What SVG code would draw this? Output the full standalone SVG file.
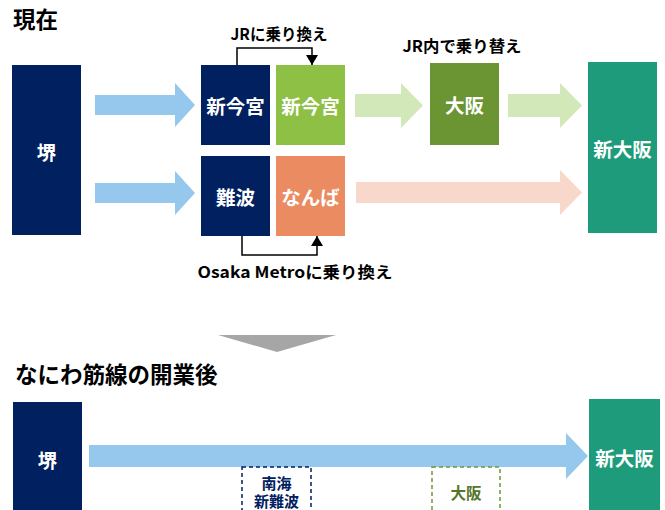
<svg xmlns="http://www.w3.org/2000/svg" width="665" height="510" viewBox="0 0 665 510">
<style>
text{font-family:"Noto Sans CJK JP","Noto Sans",sans-serif;font-weight:bold;}
.w{fill:#ffffff;font-size:19.5px;text-anchor:middle;dominant-baseline:central;}
.s{font-size:15.5px;}
.h{fill:#000000;font-size:22.5px;}
.l{fill:#000000;font-size:16px;text-anchor:middle;}
.navy{fill:#002060;}
.bk{fill:none;stroke:#000;stroke-width:1.5;}
</style>
<defs>
<marker id="ah" viewBox="0 0 10 12" refX="10" refY="6" markerWidth="10" markerHeight="12" markerUnits="userSpaceOnUse" orient="auto">
<path d="M0,0 L10,6 L0,12 Z" fill="#000"/>
</marker>
</defs>
<text class="h" x="13" y="28">現在</text>
<text class="h" x="15" y="383">なにわ筋線の開業後</text>
<g id="connectors">
<polygon fill="#95C8EC" points="95,95 175,95 175,83 195,105 175,127 175,115 95,115"/>
<polygon fill="#95C8EC" points="95,183 175,183 175,171 195,193 175,215 175,203 95,203"/>
<polygon fill="#D3E8B9" points="355,94 401,94 401,83 423,105.5 401,128 401,117 355,117"/>
<polygon fill="#D3E8B9" points="508,94 560,94 560,83 582,105.5 560,128 560,117 508,117"/>
<polygon fill="#F8D8CB" points="356,182 560,182 560,170 582,192.5 560,215 560,203 356,203"/>
<polygon fill="#95C8EC" points="89,445 566,445 566,433 588,456 566,479 566,467 89,467"/>
<polygon fill="#A6A6A6" points="218,335 336,335 277,352"/>
<path class="bk" d="M237,65 V48 H312 V65" marker-end="url(#ah)"/>
<path class="bk" d="M242,236 V255 H317 V236" marker-end="url(#ah)"/>
<text class="l" x="279" y="40" textLength="97" lengthAdjust="spacingAndGlyphs">JRに乗り換え</text>
<text class="l" x="462" y="52" textLength="119" lengthAdjust="spacingAndGlyphs">JR内で乗り替え</text>
<text class="l" x="295" y="278" textLength="195" lengthAdjust="spacingAndGlyphs">Osaka Metroに乗り換え</text>
</g>
<g id="sakai1"><rect class="navy" x="12" y="65" width="69" height="170"/><text class="w" x="46.5" y="151">堺</text></g>
<g id="shinimamiya-nankai"><rect class="navy" x="201" y="65" width="69" height="80"/><text class="w" x="235.5" y="105">新今宮</text></g>
<g id="shinimamiya-jr"><rect fill="#8DC044" x="276" y="65" width="69" height="80"/><text class="w" x="310.5" y="105">新今宮</text></g>
<g id="namba-nankai"><rect class="navy" x="201" y="156" width="69" height="80"/><text class="w" x="235.5" y="196">難波</text></g>
<g id="namba-metro"><rect fill="#EA8B61" x="276" y="156" width="69" height="80"/><text class="w" x="310.5" y="196">なんば</text></g>
<g id="osaka1"><rect fill="#6B9432" x="430" y="63" width="69" height="82"/><text class="w" x="464.5" y="104">大阪</text></g>
<g id="shinosaka1"><rect fill="#1E9B7A" x="588" y="62" width="69" height="171"/><text class="w" x="622.5" y="148">新大阪</text></g>
<g id="sakai2"><rect class="navy" x="13" y="402" width="69" height="120"/><text class="w" x="47.5" y="459">堺</text></g>
<g id="shinosaka2"><rect fill="#1E9B7A" x="589" y="399" width="71" height="120"/><text class="w" x="624.5" y="457">新大阪</text></g>
<g id="minami-shinnamba"><rect fill="#fff" stroke="#002060" stroke-width="1.5" stroke-dasharray="4,3" x="242" y="467" width="69" height="55"/><text style="fill:#002060;font-size:15px;text-anchor:middle"><tspan x="276.5" y="488.5">南海</tspan><tspan x="276.5" y="506.5">新難波</tspan></text></g>
<g id="osaka2"><rect fill="#fff" stroke="#70963A" stroke-width="1.5" stroke-dasharray="4,3" x="432" y="467" width="68" height="55"/><text class="w s" style="fill:#55752A" x="466" y="492">大阪</text></g>
</svg>
